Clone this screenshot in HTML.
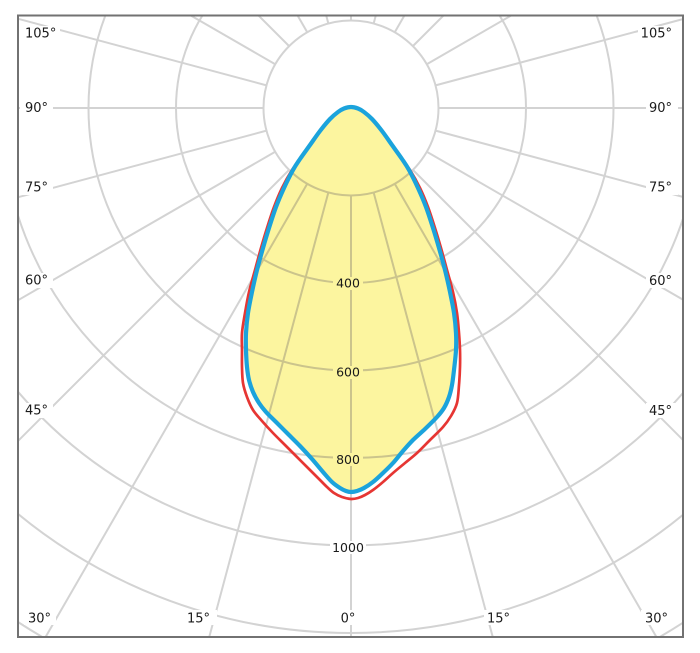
<!DOCTYPE html>
<html>
<head>
<meta charset="utf-8">
<style>
  html,body{margin:0;padding:0;background:#fff;width:700px;height:653px;overflow:hidden;}
  svg{display:block;}
  text{font-family:"DejaVu Sans","Liberation Sans",sans-serif;fill:#1a1a1a;}
</style>
</head>
<body>
<svg width="700" height="653" viewBox="0 0 700 653" xmlns="http://www.w3.org/2000/svg">
  <rect x="0" y="0" width="700" height="653" fill="#fff"/>
  <defs>
    <clipPath id="frame"><rect x="18" y="15" width="665" height="622"/></clipPath>
    <g id="grid" fill="none">
      <g transform="translate(351,108)">
        <circle r="87.5"/>
        <circle r="175"/>
        <circle r="262.5"/>
        <circle r="350"/>
        <circle r="437.5"/>
        <circle r="525"/>
        <line x1="0" y1="87.5" x2="0" y2="540" transform="rotate(0)"/>
        <line x1="0" y1="87.5" x2="0" y2="555" transform="rotate(15)"/>
        <line x1="0" y1="87.5" x2="0" y2="620" transform="rotate(30)"/>
        <line x1="0" y1="87.5" x2="0" y2="490" transform="rotate(45)"/>
        <line x1="0" y1="87.5" x2="0" y2="400" transform="rotate(60)"/>
        <line x1="0" y1="87.5" x2="0" y2="360" transform="rotate(75)"/>
        <line x1="0" y1="87.5" x2="0" y2="349" transform="rotate(90)"/>
        <line x1="0" y1="87.5" x2="0" y2="360" transform="rotate(105)"/>
        <line x1="0" y1="87.5" x2="0" y2="210" transform="rotate(120)"/>
        <line x1="0" y1="87.5" x2="0" y2="150" transform="rotate(135)"/>
        <line x1="0" y1="87.5" x2="0" y2="120" transform="rotate(150)"/>
        <line x1="0" y1="87.5" x2="0" y2="110" transform="rotate(165)"/>
        <line x1="0" y1="87.5" x2="0" y2="105" transform="rotate(180)"/>
        <line x1="0" y1="87.5" x2="0" y2="110" transform="rotate(195)"/>
        <line x1="0" y1="87.5" x2="0" y2="120" transform="rotate(210)"/>
        <line x1="0" y1="87.5" x2="0" y2="150" transform="rotate(225)"/>
        <line x1="0" y1="87.5" x2="0" y2="210" transform="rotate(240)"/>
        <line x1="0" y1="87.5" x2="0" y2="360" transform="rotate(255)"/>
        <line x1="0" y1="87.5" x2="0" y2="349" transform="rotate(270)"/>
        <line x1="0" y1="87.5" x2="0" y2="360" transform="rotate(285)"/>
        <line x1="0" y1="87.5" x2="0" y2="400" transform="rotate(300)"/>
        <line x1="0" y1="87.5" x2="0" y2="490" transform="rotate(315)"/>
        <line x1="0" y1="87.5" x2="0" y2="620" transform="rotate(330)"/>
        <line x1="0" y1="87.5" x2="0" y2="555" transform="rotate(345)"/>
      </g>
      <path d="M18,622 A612.5,612.5 0 0 0 42.3,637"/>
      <path d="M659.7,637 A612.5,612.5 0 0 0 683,622.7"/>
    </g>
    <path id="blueShape" d="M351,107 L344,108.5 338,112 330,119 320,131 310,145 300,159 293,170 284,188 276,207 269,228 263,248 257,270 252,292 248,313 246,333 246,350 247,367 249,380 253,392 259,403 266,412 276,422 288,434 300,446 312,459 323,472 332,482 340,488 346,491 351,492 357,491 364,488 373,482 383,473 393,463 403,451 413,440 425,429 437,417 444,408 449,397 452,385 454,370 456,350 456,333 454,313 450,292 445,270 439,248 433,228 426,207 418,188 409,170 402,159 392,145 382,131 372,119 364,112 358,108.5 Z"/>
    <clipPath id="inside"><use href="#blueShape"/></clipPath>
  </defs>

  <g clip-path="url(#frame)">
    <use href="#grid" stroke="#d3d3d3" stroke-width="2"/>
    <use href="#blueShape" fill="#fcf59f"/>
    <g clip-path="url(#inside)">
      <use href="#grid" stroke="#cbc48c" stroke-width="2"/>
    </g>
    <path id="redShape" fill="none" stroke="#e63633" stroke-width="2.7" stroke-linejoin="round"
      d="M351,107 L344,108.5 338,112 330,119 320,131 310,145 300,159 292,170 282,188 274,207 267,228 261,248 255,270 249,292 245,313 242,333 242,350 242,367 243,383 247,397 253,410 262,421 273,433 285,445 297,457 309,469 320,480 327,487 334,493 342,497 351,499 358,498 365,495 373,490 383,482 393,473 405,463 417,453 430,440 443,427 451,416 457,403 459,385 460,367 460,350 459,333 457,313 453,292 447,270 441,248 435,228 428,207 420,188 410,170 402,159 392,145 382,131 372,119 364,112 358,108.5 Z"/>
    <use href="#blueShape" fill="none" stroke="#1ba3dc" stroke-width="4.2" stroke-linejoin="round"/>
  </g>

  <!-- value labels -->
  <rect x="333" y="277" width="30" height="13" fill="#fcf59f"/>
  <text x="348" y="287.5" font-size="12.5" text-anchor="middle">400</text>
  <rect x="333" y="366" width="30" height="13" fill="#fcf59f"/>
  <text x="348" y="376.5" font-size="12.5" text-anchor="middle">600</text>
  <rect x="333" y="453" width="30" height="13" fill="#fcf59f"/>
  <text x="348" y="464" font-size="12.5" text-anchor="middle">800</text>
  <rect x="330" y="541" width="36" height="13" fill="#fff"/>
  <text x="348" y="552" font-size="12.5" text-anchor="middle">1000</text>

  <!-- left angle labels -->
  <rect x="20" y="26" width="40" height="15" fill="#fff"/>
  <text x="25" y="37.5" font-size="13">105°</text>
  <rect x="20" y="100" width="33" height="15" fill="#fff"/>
  <text x="25" y="112" font-size="13">90°</text>
  <rect x="20" y="180" width="33" height="15" fill="#fff"/>
  <text x="25" y="191.5" font-size="13">75°</text>
  <rect x="20" y="273" width="33" height="15" fill="#fff"/>
  <text x="25" y="284.5" font-size="13">60°</text>
  <rect x="20" y="403" width="33" height="15" fill="#fff"/>
  <text x="25" y="414.5" font-size="13">45°</text>

  <!-- right angle labels -->
  <rect x="638" y="26" width="40" height="15" fill="#fff"/>
  <text x="672" y="37.5" font-size="13" text-anchor="end">105°</text>
  <rect x="646" y="100" width="32" height="15" fill="#fff"/>
  <text x="672" y="112" font-size="13" text-anchor="end">90°</text>
  <rect x="646" y="180" width="32" height="15" fill="#fff"/>
  <text x="672" y="191.5" font-size="13" text-anchor="end">75°</text>
  <rect x="646" y="273" width="32" height="15" fill="#fff"/>
  <text x="672" y="285" font-size="13" text-anchor="end">60°</text>
  <rect x="646" y="403" width="32" height="15" fill="#fff"/>
  <text x="672" y="415" font-size="13" text-anchor="end">45°</text>

  <!-- bottom angle labels -->
  <rect x="24" y="610" width="32" height="15" fill="#fff"/>
  <text x="28" y="622.5" font-size="13">30°</text>
  <rect x="184" y="610" width="33" height="15" fill="#fff"/>
  <text x="187" y="622.5" font-size="13">15°</text>
  <rect x="339" y="610" width="19" height="15" fill="#fff"/>
  <text x="348" y="622.5" font-size="13" text-anchor="middle">0°</text>
  <rect x="484" y="610" width="33" height="15" fill="#fff"/>
  <text x="487" y="622.5" font-size="13">15°</text>
  <rect x="641" y="610" width="33" height="15" fill="#fff"/>
  <text x="645" y="622.5" font-size="13">30°</text>

  <!-- frame -->
  <rect x="18" y="15.5" width="665" height="621.5" fill="none" stroke="#727272" stroke-width="2"/>
</svg>
<script>
(function(){
  function smooth(id){
    var el=document.getElementById(id);
    if(!el) return;
    var nums=el.getAttribute('d').match(/-?\d+(\.\d+)?/g).map(Number);
    var p=[];
    for(var i=0;i<nums.length;i+=2){p.push([nums[i],nums[i+1]]);}
    var n=p.length, d='M'+p[0][0]+','+p[0][1];
    for(var k=0;k<n;k++){
      var p0=p[(k-1+n)%n],p1=p[k],p2=p[(k+1)%n],p3=p[(k+2)%n];
      var c1x=p1[0]+(p2[0]-p0[0])/6,c1y=p1[1]+(p2[1]-p0[1])/6;
      var c2x=p2[0]-(p3[0]-p1[0])/6,c2y=p2[1]-(p3[1]-p1[1])/6;
      d+=' C'+c1x.toFixed(2)+','+c1y.toFixed(2)+' '+c2x.toFixed(2)+','+c2y.toFixed(2)+' '+p2[0]+','+p2[1];
    }
    el.setAttribute('d',d+' Z');
  }
  try{smooth('blueShape');smooth('redShape');}catch(e){}
})();
</script>
</body>
</html>
